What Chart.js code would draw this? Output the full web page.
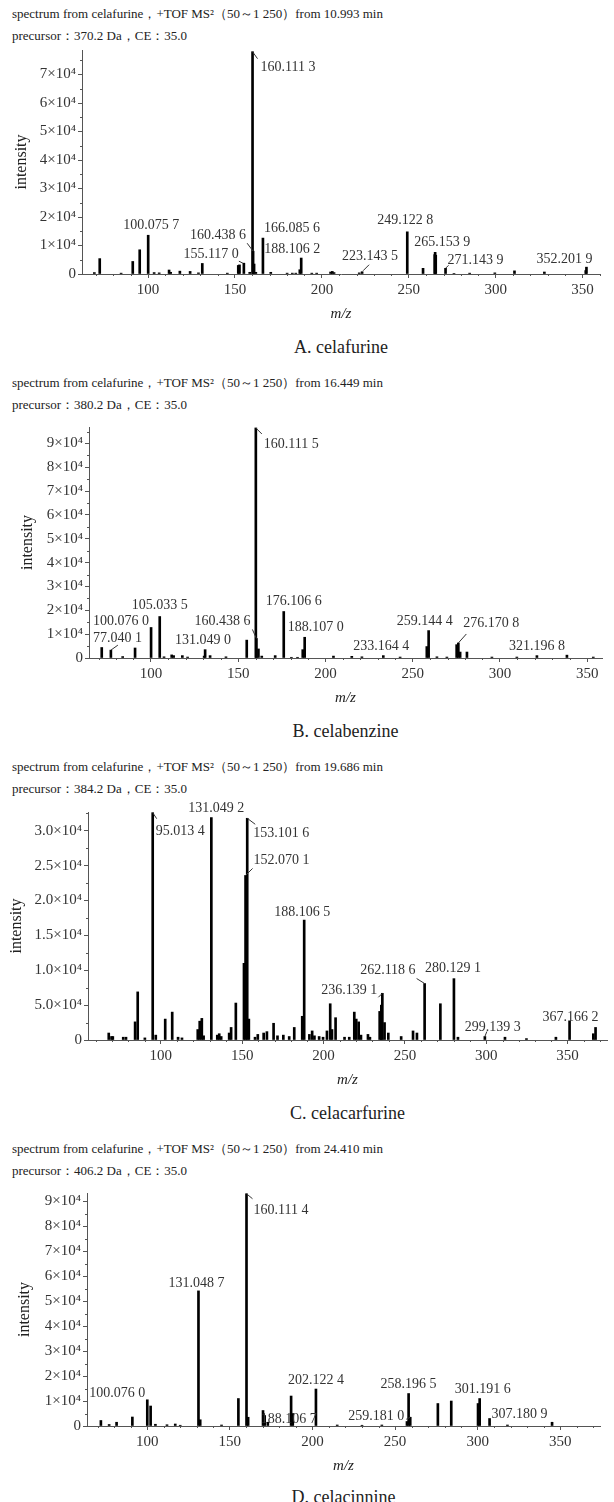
<!DOCTYPE html>
<html>
<head>
<meta charset="utf-8">
<script src="https://cdn.jsdelivr.net/npm/chart.js@4.4.1/dist/chart.umd.min.js"></script>
<style>
  body { margin: 0; background: #fff; }
  #page { position: relative; width: 614px; height: 1502px; overflow: hidden;
          font-family: "Liberation Serif", "DejaVu Serif", serif; color: #222; }
  .hdr { position: absolute; left: 12px; font-size: 13px; line-height: 16px; white-space: nowrap; }
  .cap { position: absolute; font-size: 18px; line-height: 22px; white-space: nowrap; transform: translateX(-50%); }
  canvas { position: absolute; left: 0; }
</style>
</head>
<body>
<div id="page"></div>
<script>
// ---- A. celafurine ----
const mzA = [69.1, 72.2, 84.5, 91.2, 95.2, 100.0757, 103.5, 106.4, 112.1, 113.0,
  118.3, 124.2, 129.0, 131.2, 145.6, 151.9, 152.6, 155.117, 158.5, 160.1113,
  160.4386, 161.0, 162.0, 166.0856, 170.6, 180.0, 183.0, 185.0, 187.3, 188.1062,
  194.2, 197.0, 205.0, 206.0, 207.0, 221.5, 223.1435, 249.1228, 258.2, 264.9,
  265.1539, 265.5, 271.1439, 276.0, 285.0, 299.5, 310.8, 328.0, 351.8, 352.2019];
const intA = [500, 5400, 300, 4400, 8500, 13600, 500, 400, 1400, 600,
  1000, 900, 400, 3700, 300, 3000, 3200, 3800, 600, 78000,
  8000, 3500, 600, 12600, 600, 300, 300, 300, 1500, 5600,
  300, 300, 700, 900, 500, 400, 800, 14800, 2000, 6800,
  7600, 6600, 2000, 200, 300, 400, 1100, 700, 1200, 2400];
const lblMzA = [160.1113, 100.0757, 160.4386, 155.117, 166.0856, 188.1062, 223.1435, 249.1228, 265.1539, 271.1439, 352.2019];
const lblTextA = ['160.111 3', '100.075 7', '160.438 6', '155.117 0', '166.085 6', '188.106 2', '223.143 5', '249.122 8', '265.153 9', '271.143 9', '352.201 9'];
const yTicksA = [0, 10000, 20000, 30000, 40000, 50000, 60000, 70000];
const yTickTextA = ['0', '1×10⁴', '2×10⁴', '3×10⁴', '4×10⁴', '5×10⁴', '6×10⁴', '7×10⁴'];

// ---- B. celabenzine ----
const mzB = [71.8, 77.0401, 83.8, 90.9, 100.076, 105.0335, 107.5, 111.9, 113.0, 118.0,
  121.0, 130.5, 131.049, 133.9, 143.0, 154.9, 160.1115, 160.4386, 161.6, 163.5,
  171.2, 176.1066, 180.5, 184.0, 187.0, 188.107, 204.6, 215.1, 220.9, 233.1644,
  242.8, 258.1, 259.1444, 263.9, 269.6, 275.2, 276.1708, 277.2, 281.1, 295.4,
  309.7, 321.1968, 338.4, 353.5];
const intB = [4400, 3300, 600, 4200, 12800, 17400, 500, 1300, 1000, 1000,
  400, 800, 3500, 1000, 500, 7500, 96500, 8200, 3800, 800,
  1000, 19500, 300, 300, 3500, 8700, 800, 700, 500, 1000,
  400, 4800, 11500, 500, 400, 5600, 6300, 2500, 2500, 400,
  400, 1000, 1200, 400];
const lblMzB = [160.1115, 105.0335, 100.076, 77.0401, 131.049, 160.4386, 176.1066, 188.107, 233.1644, 259.1444, 276.1708, 321.1968];
const lblTextB = ['160.111 5', '105.033 5', '100.076 0', '77.040 1', '131.049 0', '160.438 6', '176.106 6', '188.107 0', '233.164 4', '259.144 4', '276.170 8', '321.196 8'];
const yTicksB = [0, 10000, 20000, 30000, 40000, 50000, 60000, 70000, 80000, 90000];
const yTickTextB = ['0', '1×10⁴', '2×10⁴', '3×10⁴', '4×10⁴', '5×10⁴', '6×10⁴', '7×10⁴', '8×10⁴', '9×10⁴'];

// ---- C. celacarfurine ----
const mzC = [68.0, 69.7, 70.5, 76.9, 78.6, 84.2, 85.8, 90.2, 95.0134, 96.9,
  102.7, 107.0, 110.6, 113.0, 122.7, 123.9, 125.2, 126.3, 131.0492, 134.7,
  135.9, 137.1, 142.0, 143.2, 146.1, 151.1, 152.0701, 153.1016, 154.1, 157.9,
  159.6, 163.2, 165.2, 169.3, 171.7, 175.3, 178.9, 182.0, 186.9, 188.1065,
  191.3, 193.0, 194.4, 197.3, 199.7, 202.1, 204.1, 205.2, 207.4, 212.9,
  215.8, 218.9, 220.1, 221.6, 223.0, 227.3, 228.5, 234.5, 235.5, 236.1391,
  237.5, 239.8, 247.7, 255.0, 257.4, 262.1186, 271.8, 280.1291, 282.6, 299.1393,
  311.5, 324.7, 342.8, 351.2, 365.8, 367.1662];
const intC = [1000, 500, 500, 400, 400, 2600, 6900, 300, 32600, 700,
  3000, 4000, 400, 300, 1500, 2700, 3100, 600, 31900, 700,
  900, 500, 1000, 1800, 5300, 11000, 23600, 31800, 3000, 400,
  800, 1000, 1200, 2400, 600, 700, 500, 1800, 3400, 17200,
  800, 1300, 600, 500, 400, 1300, 5200, 1500, 3200, 400,
  400, 4000, 3000, 2600, 700, 800, 400, 4100, 5000, 6700,
  2500, 1000, 500, 1300, 1000, 8100, 5200, 8800, 400, 500,
  400, 200, 400, 2700, 900, 1800];
const lblMzC = [95.0134, 131.0492, 153.1016, 152.0701, 188.1065, 236.1391, 262.1186, 280.1291, 299.1393, 367.1662];
const lblTextC = ['95.013 4', '131.049 2', '153.101 6', '152.070 1', '188.106 5', '236.139 1', '262.118 6', '280.129 1', '299.139 3', '367.166 2'];
const yTicksC = [0, 5000, 10000, 15000, 20000, 25000, 30000];
const yTickTextC = ['0', '5.0×10⁴', '1.0×10⁴', '1.5×10⁴', '2.0×10⁴', '2.5×10⁴', '3.0×10⁴'];

// ---- D. celacinnine ----
const mzD = [72.0, 77.0, 81.5, 91.05, 100.076, 102.1, 105.0, 112.0, 117.0, 120.0,
  131.0487, 132.1, 145.0, 155.2, 160.1114, 161.1, 170.1, 171.1, 173.0, 187.1,
  188.1067, 202.1224, 215.0, 230.0, 242.0, 257.2, 258.1965, 259.181, 275.9, 284.0,
  300.2, 301.1916, 307.1809, 318.0, 345.0];
const intD = [2200, 600, 1500, 3600, 10500, 8000, 700, 500, 800, 300,
  54100, 2500, 400, 11000, 93000, 3500, 6200, 4200, 1500, 12000,
  5000, 14800, 400, 300, 400, 1800, 13000, 3500, 9000, 10000,
  9000, 11000, 3000, 400, 1500];
const lblMzD = [160.1114, 131.0487, 100.076, 188.1067, 202.1224, 258.1965, 259.181, 301.1916, 307.1809];
const lblTextD = ['160.111 4', '131.048 7', '100.076 0', '188.106 7', '202.122 4', '258.196 5', '259.181 0', '301.191 6', '307.180 9'];
const yTicksD = [0, 10000, 20000, 30000, 40000, 50000, 60000, 70000, 80000, 90000];
const yTickTextD = ['0', '1×10⁴', '2×10⁴', '3×10⁴', '4×10⁴', '5×10⁴', '6×10⁴', '7×10⁴', '8×10⁴', '9×10⁴'];

const xTicks = [100, 150, 200, 250, 300, 350];

// label placement: [align, dx, dy, leader line (relative to bar top) or null]
const lblPosA = [
  ['left', 8, 16, [0, 0, 5, 7]], ['center', 3, -10, null], ['right', -7, -16, [0, 0, -6, -8]],
  ['right', -5, -9, [-1, 0, -5, -2]], ['left', 1, -10, null], ['center', -9, -9, null],
  ['center', 8, -15, [1, -1, 7, -7]], ['center', -2, -11, null], ['center', 7, -10, null],
  ['left', 2, -8, [0, 0, 3, -3]], ['center', -22, -8, null]
];
const lblPosB = [
  ['left', 8, 16, [0, 0, 6, 6]], ['center', 0, -11, null], ['right', -2, -6, null],
  ['left', -18, -12, [0, 0, 7, -5]], ['center', -2, -9, null], ['right', -6, -17, [0, 0, -4, -9]],
  ['center', 10, -10, null], ['center', 11, -10, null], ['center', -2, -9, null],
  ['center', -4, -9, null], ['left', 5, -20, [0, 0, 8, -9]], ['center', 0, -9, null]
];
const lblPosC = [
  ['left', 3, 19, [0, 0, 4, 6]], ['center', 5, -9, null], ['left', 6, 15, [0, 0, 8, 6]],
  ['left', 8, -15, [0, 0, 7, -7]], ['center', -2, -8, null], ['right', -5, -3, [0, 0, -4, 4]],
  ['right', -9, -13, [0, 0, -8, -5]], ['center', -1, -10, null], ['center', 8, -9, [0, 0, 2, -5]],
  ['center', -25, -10, null]
];
const lblPosD = [
  ['left', 7, 17, [0, 0, 6, 5]], ['center', -2, -8, null], ['right', -2, -6, null],
  ['center', -4, 6, null], ['center', 0, -9, null], ['center', 0, -9, null],
  ['right', -6, -1, [0, 0, -4, 2]], ['center', 3, -9, null], ['left', 2, -4, null]
];

const panels = [
  { mz: mzA, inten: intA, lblMz: lblMzA, lblText: lblTextA, lblPos: lblPosA,
    yTicks: yTicksA, yTickText: yTickTextA, yMax: 78600, xMin: 62, xMax: 360,
    header: ['spectrum from celafurine，+TOF MS²（50～1 250）from 10.993 min', 'precursor：370.2 Da，CE：35.0'],
    caption: 'A. celafurine',
    box: { left: 82, right: 600, top: 50, base: 274, hdr: [14, 36], cap: 347, titleX: 22 } },
  { mz: mzB, inten: intB, lblMz: lblMzB, lblText: lblTextB, lblPos: lblPosB,
    yTicks: yTicksB, yTickText: yTickTextB, yMax: 96900, xMin: 64.5, xMax: 358.5,
    header: ['spectrum from celafurine，+TOF MS²（50～1 250）from 16.449 min', 'precursor：380.2 Da，CE：35.0'],
    caption: 'B. celabenzine',
    box: { left: 89, right: 602, top: 427, base: 658, hdr: [383, 405], cap: 731, titleX: 28 } },
  { mz: mzC, inten: intC, lblMz: lblMzC, lblText: lblTextC, lblPos: lblPosC,
    yTicks: yTicksC, yTickText: yTickTextC, yMax: 32700, xMin: 55.25, xMax: 374.2,
    header: ['spectrum from celafurine，+TOF MS²（50～1 250）from 19.686 min', 'precursor：384.2 Da，CE：35.0'],
    caption: 'C. celacarfurine',
    box: { left: 88, right: 607, top: 812, base: 1040, hdr: [767, 789], cap: 1113, titleX: 17 } },
  { mz: mzD, inten: intD, lblMz: lblMzD, lblText: lblTextD, lblPos: lblPosD,
    yTicks: yTicksD, yTickText: yTickTextD, yMax: 93300, xMin: 63.6, xMax: 374,
    header: ['spectrum from celafurine，+TOF MS²（50～1 250）from 24.410 min', 'precursor：406.2 Da，CE：35.0'],
    caption: 'D. celacinnine',
    box: { left: 87, right: 600, top: 1193, base: 1426, hdr: [1149, 1171], cap: 1497, titleX: 25 } }
];

const SERIF = '"Liberation Serif", "DejaVu Serif", serif';

// Draws peak labels, leader lines and minor ticks
function makeLabelPlugin(p) {
  return {
    id: 'peakLabels',
    afterDraw(chart) {
      const { ctx, scales: { x, y }, chartArea } = chart;
      ctx.save();
      ctx.strokeStyle = '#555';
      ctx.lineWidth = 1;
      // minor ticks
      ctx.beginPath();
      for (let v = Math.ceil(p.xMin / 10) * 10; v <= p.xMax; v += 10) {
        if (v % 50 === 0) continue;
        const px = Math.round(x.getPixelForValue(v)) + 0.5;
        ctx.moveTo(px, chartArea.bottom);
        ctx.lineTo(px, chartArea.bottom + 2);
      }
      const step = p.yTicks[1] - p.yTicks[0];
      for (let v = step / 2; v <= p.yMax; v += step) {
        const py = Math.round(y.getPixelForValue(v)) + 0.5;
        ctx.moveTo(chartArea.left - 2, py);
        ctx.lineTo(chartArea.left, py);
      }
      ctx.stroke();

      ctx.font = '14px ' + SERIF;
      ctx.fillStyle = '#333';
      ctx.strokeStyle = '#333';
      ctx.textBaseline = 'middle';
      p.lblMz.forEach((m, i) => {
        const k = p.mz.indexOf(m);
        const bx = x.getPixelForValue(m);
        const by = y.getPixelForValue(p.inten[k]);
        const pos = p.lblPos[i];
        ctx.textAlign = pos[0];
        ctx.fillText(p.lblText[i], bx + pos[1], by + pos[2]);
        if (pos[3]) {
          const l = pos[3];
          ctx.beginPath();
          ctx.moveTo(bx + l[0], by + l[1]);
          ctx.lineTo(bx + l[2], by + l[3]);
          ctx.stroke();
        }
      });
      ctx.restore();
    }
  };
}

function buildPanel(p) {
  const page = document.getElementById('page');
  const b = p.box;

  p.header.forEach((t, i) => {
    const d = document.createElement('div');
    d.className = 'hdr';
    d.textContent = t;
    d.style.top = (b.hdr[i] - 8) + 'px';
    page.appendChild(d);
  });

  const cap = document.createElement('div');
  cap.className = 'cap';
  cap.textContent = p.caption;
  cap.style.top = (b.cap - 11) + 'px';
  cap.style.left = ((b.left + b.right) / 2) + 'px';
  page.appendChild(cap);

  const padTop = 30;
  const axisH = 52;
  const cv = document.createElement('canvas');
  cv.width = 614;
  cv.height = padTop + (b.base - b.top) + axisH;
  cv.style.top = (b.top - padTop) + 'px';
  page.appendChild(cv);

  new Chart(cv.getContext('2d'), {
    type: 'bar',
    data: {
      datasets: [{
        data: p.mz.map((m, i) => ({ x: m, y: p.inten[i] })),
        backgroundColor: '#000',
        borderWidth: 0,
        barThickness: 2
      }]
    },
    options: {
      responsive: false,
      animation: false,
      devicePixelRatio: 1,
      layout: { padding: { top: padTop, right: 614 - b.right, left: 0, bottom: 0 } },
      plugins: { legend: { display: false }, tooltip: { enabled: false } },
      scales: {
        x: {
          type: 'linear',
          offset: false,
          min: p.xMin,
          max: p.xMax,
          afterFit: s => { s.height = axisH; },
          afterBuildTicks: s => { s.ticks = xTicks.map(v => ({ value: v })); },
          grid: { display: true, offset: false, drawOnChartArea: false, drawTicks: true, tickLength: 4, color: '#555' },
          border: { display: true, color: '#555', width: 1 },
          ticks: { color: '#333', padding: 3, maxRotation: 0, font: { family: SERIF, size: 15 },
                   callback: v => String(v) },
          title: { display: true, text: 'm/z', color: '#222', padding: { top: 0, bottom: 3 },
                   font: { family: SERIF, size: 15, style: 'italic' } }
        },
        y: {
          type: 'linear',
          min: 0,
          max: p.yMax,
          afterFit: s => { s.width = b.left; },
          afterBuildTicks: s => { s.ticks = p.yTicks.map(v => ({ value: v })); },
          grid: { display: true, drawOnChartArea: false, drawTicks: true, tickLength: 4, color: '#555' },
          border: { display: true, color: '#555', width: 1 },
          ticks: { color: '#333', padding: 2, font: { family: SERIF, size: 15 },
                   callback: v => p.yTickText[p.yTicks.indexOf(v)] },
          title: { display: true, text: 'intensity', color: '#222', padding: { top: b.titleX - 9.6, bottom: 0 },
                   font: { family: SERIF, size: 16 } }
        }
      }
    },
    plugins: [makeLabelPlugin(p)]
  });
}

panels.forEach(buildPanel);
</script>
</body>
</html>
